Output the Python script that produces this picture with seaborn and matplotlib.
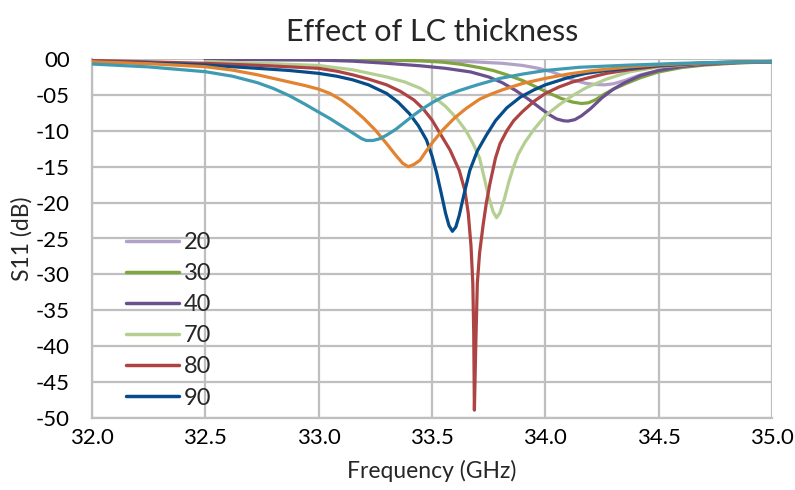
import numpy as np
import pandas as pd
import matplotlib
matplotlib.use("Agg")
import matplotlib.pyplot as plt
import seaborn as sns

# ---- data ----
f20 = [32.5, 33.0, 33.5, 33.67, 33.81, 33.9, 33.97, 34.03, 34.08, 34.13, 34.18, 34.22, 34.26, 34.3, 34.35, 34.42, 34.5, 34.6, 34.7, 34.85, 35.0]
s20 = [-0.05, -0.1, -0.25, -0.37, -0.6, -0.9, -1.3, -1.8, -2.4, -3.0, -3.4, -3.55, -3.6, -3.45, -3.0, -2.2, -1.6, -1.1, -0.75, -0.5, -0.4]

f30 = [32.5, 33.0, 33.3, 33.45, 33.55, 33.63, 33.71, 33.77, 33.83, 33.9, 33.96, 34.02, 34.07, 34.12, 34.16, 34.19, 34.22, 34.26, 34.3, 34.35, 34.42, 34.5, 34.6, 34.7, 34.85, 35.0]
s30 = [-0.05, -0.1, -0.15, -0.25, -0.45, -0.75, -1.2, -1.6, -2.2, -3.0, -3.9, -4.8, -5.5, -6.0, -6.2, -6.1, -5.7, -4.9, -4.2, -3.5, -2.6, -1.8, -1.2, -0.85, -0.55, -0.4]

f40 = [32.5, 32.75, 33.0, 33.15, 33.3, 33.45, 33.56, 33.67, 33.75, 33.81, 33.87, 33.93, 33.98, 34.02, 34.05, 34.08, 34.1, 34.13, 34.16, 34.2, 34.25, 34.3, 34.35, 34.42, 34.5, 34.6, 34.7, 34.85, 35.0]
s40 = [-0.05, -0.08, -0.15, -0.3, -0.6, -0.95, -1.3, -1.8, -2.5, -3.3, -4.4, -5.7, -6.9, -7.8, -8.35, -8.6, -8.65, -8.45, -7.9, -6.9, -5.4, -4.2, -3.3, -2.3, -1.6, -1.05, -0.75, -0.5, -0.4]

f70 = [32.5, 32.75, 33.0, 33.15, 33.3, 33.38, 33.45, 33.5, 33.56, 33.61, 33.65, 33.68, 33.71, 33.73, 33.75, 33.77, 33.785, 33.8, 33.82, 33.84, 33.86, 33.88, 33.91, 33.95, 34.0, 34.06, 34.12, 34.18, 34.27, 34.37, 34.5, 34.7, 34.85, 35.0]
s70 = [-0.35, -0.6, -0.9, -1.5, -2.5, -3.2, -4.1, -5.1, -6.6, -8.3, -10.0, -11.7, -13.8, -16.5, -19.2, -21.3, -22.1, -21.4, -19.4, -17.0, -15.0, -13.3, -11.6, -9.8, -7.9, -6.4, -5.1, -4.0, -2.8, -1.8, -1.1, -0.6, -0.45, -0.35]

f80 = [32.0, 32.25, 32.5, 32.75, 33.0, 33.08, 33.15, 33.22, 33.3, 33.36, 33.42, 33.46, 33.5, 33.54, 33.58, 33.62, 33.645, 33.66, 33.672, 33.68, 33.684, 33.687, 33.693, 33.7, 33.71, 33.726, 33.74, 33.756, 33.78, 33.8, 33.83, 33.86, 33.9, 33.95, 34.0, 34.06, 34.12, 34.18, 34.27, 34.37, 34.5, 34.7, 34.85, 35.0]
s80 = [-0.2, -0.4, -0.6, -0.9, -1.3, -1.7, -2.2, -2.8, -3.6, -4.5, -5.7, -6.9, -8.5, -10.6, -12.7, -15.5, -18.3, -21.5, -26.0, -31.2, -38.0, -48.9, -40.0, -31.2, -27.0, -23.0, -20.0, -17.3, -13.8, -11.8, -10.0, -8.6, -7.3, -5.9, -4.8, -3.9, -3.2, -2.7, -2.0, -1.5, -1.0, -0.6, -0.45, -0.35]

f90 = [32.0, 32.25, 32.5, 32.73, 32.87, 33.0, 33.08, 33.15, 33.22, 33.3, 33.35, 33.4, 33.44, 33.476, 33.5, 33.52, 33.54, 33.56, 33.575, 33.59, 33.605, 33.62, 33.64, 33.667, 33.7, 33.74, 33.78, 33.83, 33.89, 33.95, 34.0, 34.1, 34.18, 34.27, 34.37, 34.5, 34.7, 34.85, 35.0]
s90 = [-0.37, -0.55, -0.84, -1.3, -1.6, -2.0, -2.4, -2.9, -3.6, -4.8, -6.0, -7.6, -9.3, -11.3, -13.5, -15.8, -18.6, -21.5, -23.2, -24.0, -23.4, -21.8, -19.0, -15.5, -12.8, -10.6, -8.6, -6.8, -5.3, -4.3, -3.6, -2.6, -2.0, -1.6, -1.3, -0.9, -0.55, -0.42, -0.35]

f100 = [32.0, 32.25, 32.5, 32.62, 32.73, 32.8, 32.87, 32.94, 33.0, 33.05, 33.1, 33.15, 33.2, 33.25, 33.3, 33.34, 33.37, 33.395, 33.42, 33.447, 33.475, 33.505, 33.55, 33.6, 33.65, 33.71, 33.76, 33.81, 33.9, 34.0, 34.1, 34.2, 34.37, 34.5, 34.7, 34.85, 35.0]
s100 = [-0.37, -0.65, -1.07, -1.55, -2.2, -2.7, -3.2, -3.7, -4.2, -4.8, -5.7, -6.9, -8.3, -9.9, -11.8, -13.4, -14.5, -15.0, -14.7, -14.1, -12.8, -11.5, -9.8, -8.2, -6.9, -5.6, -4.9, -4.3, -3.4, -2.7, -2.1, -1.65, -1.1, -0.8, -0.55, -0.42, -0.35]

f110 = [32.0, 32.25, 32.5, 32.62, 32.73, 32.8, 32.87, 32.94, 33.0, 33.05, 33.1, 33.15, 33.19, 33.21, 33.24, 33.27, 33.3, 33.34, 33.38, 33.42, 33.46, 33.505, 33.56, 33.62, 33.7, 33.8, 33.9, 34.0, 34.15, 34.37, 34.6, 34.8, 35.0]
s110 = [-0.7, -1.1, -1.77, -2.4, -3.3, -4.1, -5.1, -6.3, -7.4, -8.3, -9.3, -10.3, -11.1, -11.35, -11.35, -11.1, -10.6, -9.8, -8.8, -7.8, -6.9, -6.0, -5.1, -4.4, -3.6, -2.7, -2.1, -1.6, -1.15, -0.85, -0.6, -0.45, -0.35]

labels = ["20", "30", "40", "70", "80", "90", "100", "110"]
freqs = [f20, f30, f40, f70, f80, f90, f100, f110]
s11s = [s20, s30, s40, s70, s80, s90, s100, s110]
colors = ["#B3A2C7", "#7FA540", "#6B4F8F", "#B5CF92", "#AD4443", "#064C8A", "#E2832F", "#3F9BB2"]

xticks = [32.0, 32.5, 33.0, 33.5, 34.0, 34.5, 35.0]
yticks = [0, -5, -10, -15, -20, -25, -30, -35, -40, -45, -50]

sns.set_theme(style="white")
plt.rcParams["font.family"] = ["Lato", "DejaVu Sans"]

fig = plt.figure(figsize=(7.95, 4.90), dpi=100)
ax = fig.add_axes([92/795, 1-418/490, (772-92)/795, (418-59)/490])

grid_c = "#BFBFBF"
for lab, f, s, c in zip(labels, freqs, s11s, colors):
    df = pd.DataFrame({"Frequency (GHz)": f, "S11 (dB)": s})
    sns.lineplot(data=df, x="Frequency (GHz)", y="S11 (dB)", color=c, linewidth=2.3,
                 ax=ax, label=lab, sort=False, estimator=None, zorder=3)

ax.set_xlim(32.0, 35.0)
ax.set_ylim(-50, 0)
ax.set_xticks(xticks)
ax.set_yticks(yticks)
ax.set_xticklabels([f"{v:.1f}" for v in xticks])
ax.set_yticklabels(["00" if v == 0 else f"-{abs(v):02d}" for v in yticks])
ax.grid(True, color=grid_c, linewidth=1.6)
ax.set_axisbelow(True)
for side in ["top", "right"]:
    ax.spines[side].set_visible(False)
for side in ["left", "bottom"]:
    ax.spines[side].set_color(grid_c)
    ax.spines[side].set_linewidth(1.6)
ax.tick_params(axis="y", length=0, pad=16, labelsize=16, colors="black")
ax.tick_params(axis="x", length=0, pad=7, labelsize=16, colors="black")
ax.set_xlabel("Frequency (GHz)", fontsize=16.5, labelpad=9)
ax.set_ylabel("S11 (dB)", fontsize=16.5, labelpad=2)
ax.set_title("Effect of LC thickness", fontsize=22, pad=13)

handles, labs = ax.get_legend_handles_labels()
leg = ax.legend(handles[:6], labs[:6], loc="upper left", bbox_to_anchor=(0.036, 0.545),
                frameon=False, fontsize=17, handlelength=2.25, handletextpad=0.2,
                labelspacing=0.43, borderaxespad=0)
for h in leg.get_lines():
    h.set_linewidth(2.5)

fig.savefig("out.png", dpi=100)
